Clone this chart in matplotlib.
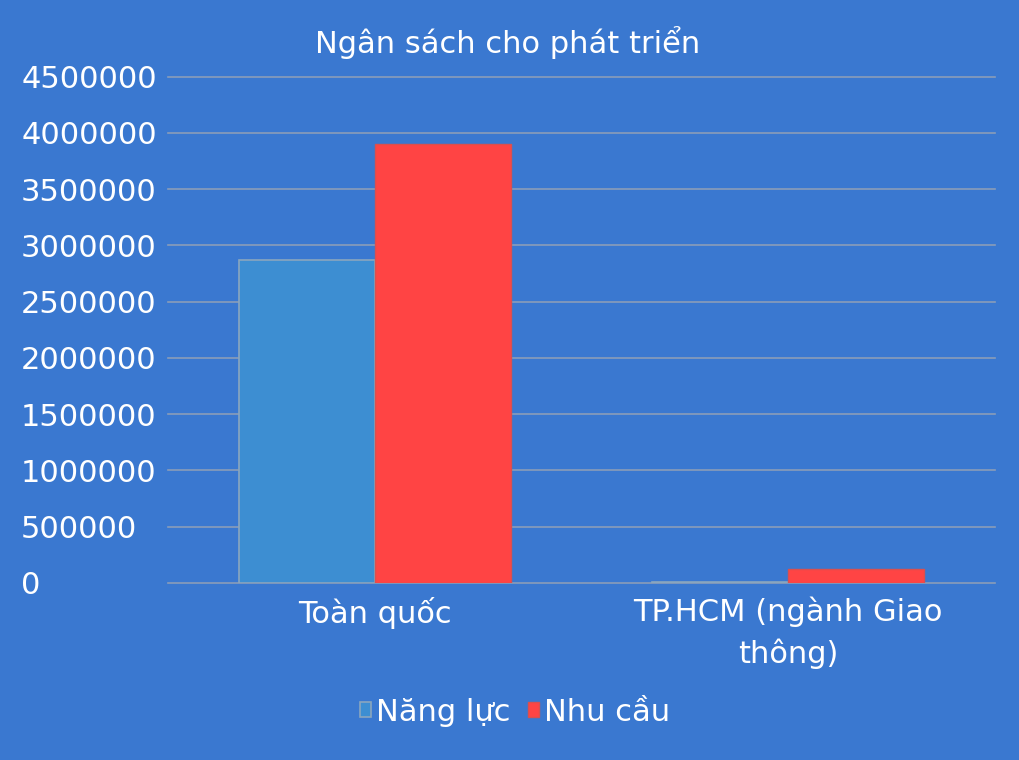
import matplotlib
matplotlib.use('Agg')
import matplotlib.pyplot as plt
import numpy as np

# Data
categories = ['Toàn quốc', 'TP.HCM (ngành Giao\nthông)']
nang_luc = [2870000, 9000]
nhu_cau = [3900000, 120000]
yticks = [0, 500000, 1000000, 1500000, 2000000, 2500000, 3000000, 3500000, 4000000, 4500000]

BG = '#3A78D0'
BLUE = '#3D8ED2'
RED = '#FF4444'
GRID = '#8A9DB8'

plt.rcParams['font.family'] = ['DejaVu Sans']

fig = plt.figure(figsize=(10.2, 7.6), dpi=100, facecolor=BG)
ax = fig.add_axes([0.165, 0.233, 0.81, 0.666], facecolor=BG)

x = np.arange(len(categories))
w = 0.33
ax.bar(x - w / 2, nang_luc, w, color=BLUE, edgecolor='#8AA6BE', linewidth=1.2, label='Năng lực', zorder=3)
ax.bar(x + w / 2, nhu_cau, w, color=RED, edgecolor='#D85050', linewidth=1, label='Nhu cầu', zorder=3)

ax.set_xlim(-0.5, 1.5)
ax.set_ylim(0, 4500000)
ax.set_yticks(yticks)
ax.set_yticklabels([str(v) for v in yticks], ha='left')
ax.set_xticks(x)
ax.set_xticklabels(categories, linespacing=1.45)
ax.yaxis.grid(True, color=GRID, linewidth=1.2, zorder=0)
for gl in ax.get_ygridlines():
    gl.set_clip_on(False)
ax.tick_params(axis='y', length=0, pad=106, labelsize=22, labelcolor='white')
ax.tick_params(axis='x', length=0, pad=10, labelsize=22, labelcolor='white')
for s in ax.spines.values():
    s.set_visible(False)

fig.text(0.498, 0.944, 'Ngân sách cho phát triển', color='white', fontsize=22,
         ha='center', va='center')

fig.legend(loc='center', bbox_to_anchor=(0.505, 0.063), ncol=2, frameon=False,
           fontsize=22, labelcolor='white', handlelength=0.35, handleheight=0.35,
           handletextpad=0.15, columnspacing=0.6)

fig.savefig('out.png', dpi=100, facecolor=BG)
